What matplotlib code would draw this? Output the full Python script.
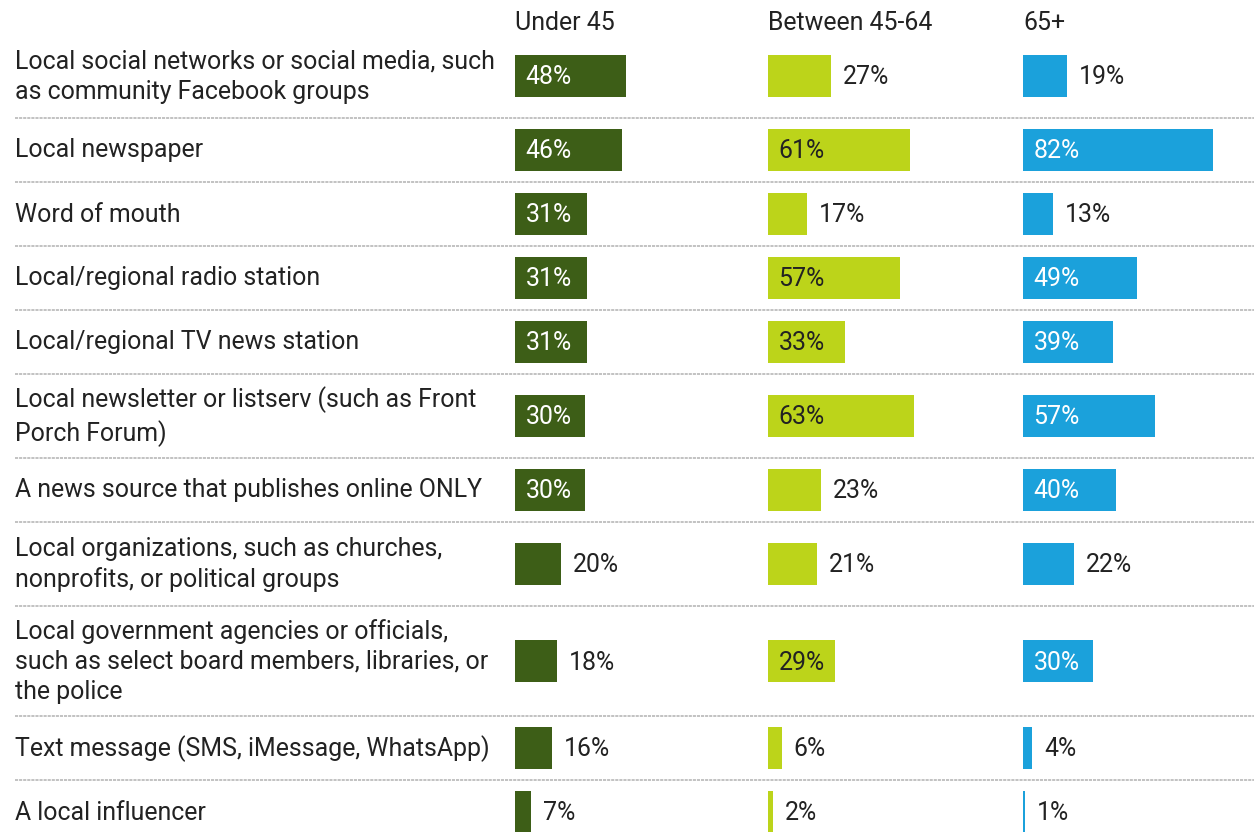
import matplotlib.pyplot as plt

plt.rcParams['font.family'] = ['Roboto', 'DejaVu Sans']

sources = [
    "Local social networks or social media, such\nas community Facebook groups",
    "Local newspaper",
    "Word of mouth",
    "Local/regional radio station",
    "Local/regional TV news station",
    "Local newsletter or listserv (such as Front\nPorch Forum)",
    "A news source that publishes online ONLY",
    "Local organizations, such as churches,\nnonprofits, or political groups",
    "Local government agencies or officials,\nsuch as select board members, libraries, or\nthe police",
    "Text message (SMS, iMessage, WhatsApp)",
    "A local influencer",
]
age_groups = ["Under 45", "Between 45-64", "65+"]
under_45 = [48, 46, 31, 31, 31, 30, 30, 20, 18, 16, 7]
between_45_64 = [27, 61, 17, 57, 33, 63, 23, 21, 29, 6, 2]
over_65 = [19, 82, 13, 49, 39, 57, 40, 22, 30, 4, 1]

series = [under_45, between_45_64, over_65]
colors = ["#3d5e17", "#bcd41a", "#1ba1db"]
inside_colors = ["white", "#222222", "white"]
text_color = "#222222"
fs = 17.9

W, H = 1254, 832
fig = plt.figure(figsize=(W / 100, H / 100), dpi=100)

# background axes in pixel units for labels, headers and row rules
bg = fig.add_axes([0, 0, 1, 1])
bg.set_xlim(0, W)
bg.set_ylim(H, 0)
bg.axis("off")

# row layout: height depends on how many lines the label takes
row_h = {1: 64, 2: 84, 3: 110}
top = 34
centers, bounds = [], []
for s in sources:
    h = row_h[s.count("\n") + 1]
    centers.append(top + h / 2)
    top += h
    bounds.append(top)

for s, c in zip(sources, centers):
    bg.text(15, c + 0.5, s, va="center", ha="left", fontsize=fs,
            color=text_color, linespacing=1.32)
for b in bounds[:-1]:
    bg.plot([15, W], [b, b], color="#c2c2c2", lw=1.4, ls=(0, (1.6, 0.5)))

col_left = [515, 768, 1023]
col_width = 250
px_per_pct = 2.32
bar_h = 42

for i in range(3):
    ax = fig.add_axes([col_left[i] / W, 0, col_width / W, 1])
    ax.set_xlim(0, col_width / px_per_pct)
    ax.set_ylim(H, 0)
    ax.axis("off")
    bg.text(col_left[i], 23, age_groups[i], va="center", ha="left",
            fontsize=fs, color=text_color)
    vals = series[i]
    ax.barh(centers, vals, height=bar_h, color=colors[i], left=0)
    for v, c in zip(vals, centers):
        if v >= 28:
            ax.annotate(f"{v}%", (0, c + 1.5), xytext=(7.5, 0), textcoords="offset points",
                        va="center", ha="left", fontsize=fs, color=inside_colors[i])
        else:
            ax.annotate(f"{v}%", (v, c + 1.5), xytext=(8.5, 0), textcoords="offset points",
                        va="center", ha="left", fontsize=fs, color=text_color)

fig.savefig("out.png", dpi=100)
